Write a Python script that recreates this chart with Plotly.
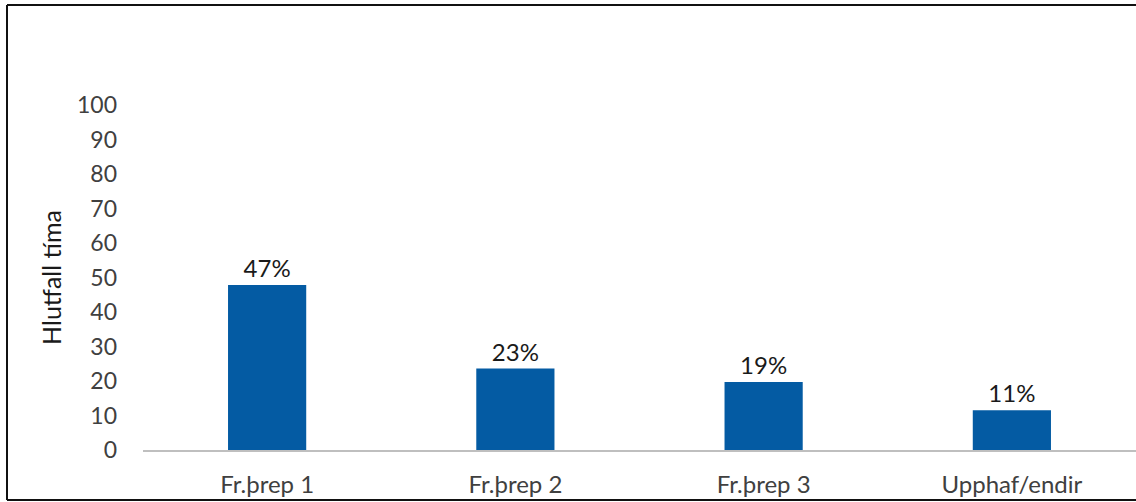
import plotly.graph_objects as go

categories = ["Fr.þrep 1", "Fr.þrep 2", "Fr.þrep 3", "Upphaf/endir"]
values = [47.8, 23.6, 19.7, 11.5]
labels = ["47%", "23%", "19%", "11%"]
y_ticks = [0, 10, 20, 30, 40, 50, 60, 70, 80, 90, 100]

W, H = 1136, 502
L, R, T, B = 143, 0, 105, 52
pw, ph = W - L - R, H - T - B
FONT = "Lato, Open Sans, sans-serif"

def px(x):
    return (x - L) / pw

def py(y):
    return (H - B - y) / ph

fig = go.Figure(go.Bar(
    x=categories, y=values, text=labels, textposition="outside",
    textfont=dict(family=FONT, size=24, color="#1a1a1a"),
    marker=dict(color="#045BA3", line=dict(width=0)),
    width=0.315, cliponaxis=False,
))

fig.update_layout(
    width=W, height=H,
    margin=dict(l=L, r=R, t=T, b=B),
    plot_bgcolor="white", paper_bgcolor="white",
    font=dict(family=FONT, size=23, color="#404040"),
    showlegend=False,
    xaxis=dict(showgrid=False, showline=True, linecolor="#bfbfbf", linewidth=2,
               ticks="", ticklabelstandoff=12, tickfont=dict(size=24, color="#404040"),
               zeroline=False, range=[-0.5, 3.5]),
    yaxis=dict(range=[0, 100], tickvals=y_ticks, showgrid=False, zeroline=False,
               showline=False, ticks="", ticklabelstandoff=25,
               tickfont=dict(size=23, color="#404040"),
               title=dict(text="Hlutfall tíma", standoff=8,
                          font=dict(size=25, color="#1a1a1a"))),
    shapes=[
        dict(type="line", xref="paper", yref="paper", x0=px(7), x1=px(1136),
             y0=py(5), y1=py(5), line=dict(color="#111111", width=2)),
        dict(type="line", xref="paper", yref="paper", x0=px(7), x1=px(7),
             y0=py(5), y1=py(500), line=dict(color="#111111", width=2)),
        dict(type="line", xref="paper", yref="paper", x0=px(7), x1=px(1136),
             y0=py(500), y1=py(500), line=dict(color="#111111", width=2)),
    ],
)

fig.write_html("out.html", config={"displayModeBar": False},
               post_script="document.body.style.margin='0';document.body.style.overflow='hidden';")
